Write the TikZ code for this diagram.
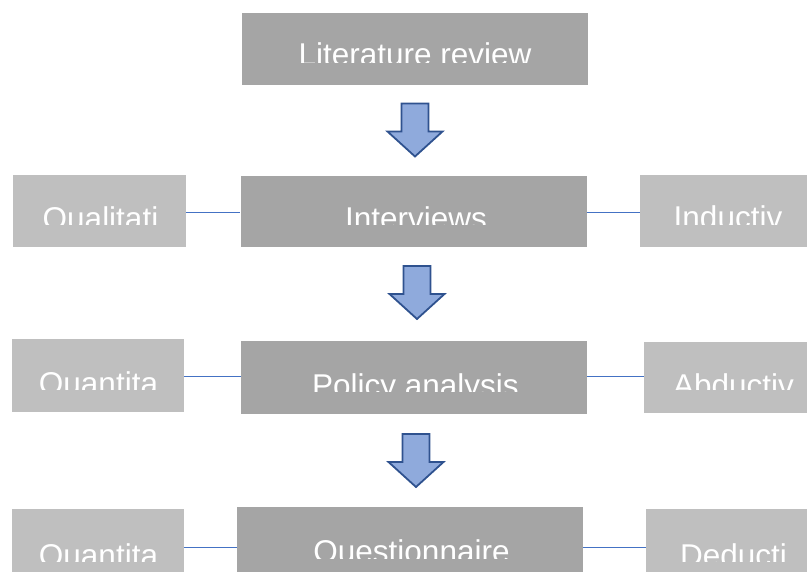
\documentclass[tikz,border=0pt]{standalone}
\usepackage{fontspec}
\setmainfont{Liberation Sans}
\definecolor{mainbox}{HTML}{A5A5A5}
\definecolor{sidebox}{HTML}{BFBFBF}
\definecolor{linkblue}{HTML}{4472C4}
\definecolor{arrowfill}{HTML}{8FAADC}
\definecolor{arrowedge}{HTML}{2F528F}

% box label cut off at a given height: #1 box, #2 centre x, #3 baseline y, #4 cut y, #5 text
\newcommand\cutlabel[5]{%
  \begin{scope}
    \clip (#1.north west) rectangle (#1.east |- 0,#4);
    \node[label] (#1-text) at (#2,#3) {#5};
  \end{scope}}

\begin{document}
\begin{tikzpicture}[x=1pt,y=-1pt,
  mainstep/.style={fill=mainbox,draw=none,minimum width=346pt,minimum height=72pt,inner sep=0pt},
  sidestep/.style={fill=sidebox,draw=none,minimum width=174pt,minimum height=72pt,inner sep=0pt},
  label/.style={anchor=base,inner sep=0pt,text=white,font=\fontsize{31.5}{36}\selectfont},
  link/.style={draw=linkblue,line width=1pt},
  darrow/.pic={
    \draw[fill=arrowfill,draw=arrowedge,line width=1.8pt,line join=miter]
      (-13.5,0) -- (13.5,0) -- (13.5,28) -- (27.5,28) -- (0,53)
      -- (-27.5,28) -- (-13.5,28) -- cycle;
  }]
  \clip (0,0) rectangle (807,572);

  % main column
  \node[mainstep] (lit) at (415,49) {};
  \node[mainstep,minimum height=71pt] (int) at (413.5,211.5) {};
  \node[mainstep,minimum height=73pt] (pol) at (414,377.5) {};
  \node[mainstep] (que) at (410,543) {};

  % left column
  \node[sidestep,minimum width=173pt] (qual) at (99.5,211) {};
  \node[sidestep,minimum width=172pt,minimum height=73pt] (quan1) at (98,375.5) {};
  \node[sidestep,minimum width=172pt] (quan2) at (98,545) {};

  % right column
  \node[sidestep,minimum width=175pt] (ind) at (727.5,211) {};
  \node[sidestep,minimum width=175pt,minimum height=71pt] (abd) at (731.5,377.5) {};
  \node[sidestep,minimum width=175pt] (ded) at (733.5,545) {};

  % side links
  \draw[link] (qual.east |- 0,213) -- (int.west |- 0,213);
  \draw[link] (int.east |- 0,213) -- (ind.west |- 0,213);
  \draw[link] (quan1.east |- 0,377) -- (pol.west |- 0,377);
  \draw[link] (pol.east |- 0,377) -- (abd.west |- 0,377);
  \draw[link] (quan2.east |- 0,547) -- (que.west |- 0,547);
  \draw[link] (que.east |- 0,547) -- (ded.west |- 0,547);

  % step arrows
  \pic at (415,103.5) {darrow};
  \pic at (417,266) {darrow};
  \pic at (416,434) {darrow};

  % labels
  \cutlabel{lit}{415}{66}{63}{Literature review}
  \cutlabel{int}{416}{230}{225}{Interviews}
  \cutlabel{pol}{415.5}{396}{392}{Policy analysis}
  \cutlabel{que}{411.5}{562}{558}{Questionnaire}
  \cutlabel{qual}{100.5}{230}{225}{Qualitati}
  \cutlabel{quan1}{98.5}{395}{390}{Quantita}
  \cutlabel{quan2}{98.5}{566}{561}{Quantita}
  \cutlabel{ind}{728}{229}{225}{Inductiv}
  \cutlabel{abd}{733.5}{396}{390}{Abductiv}
  \cutlabel{ded}{733.5}{566}{561}{Deducti}
\end{tikzpicture}
\end{document}
